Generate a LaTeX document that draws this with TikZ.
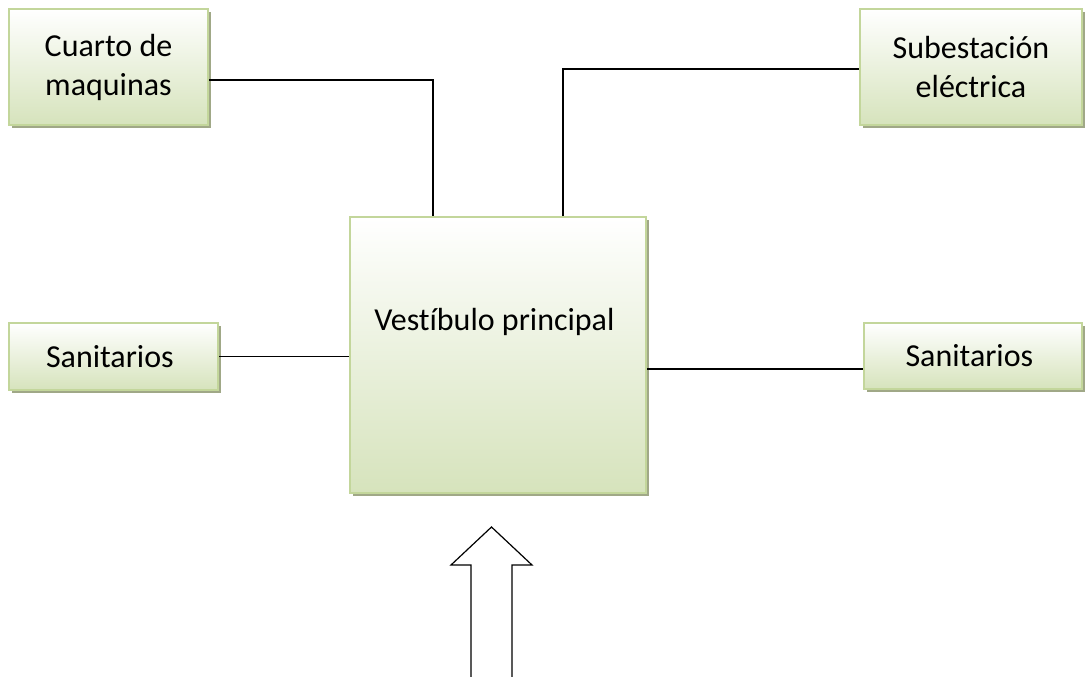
\documentclass[tikz,border=0pt]{standalone}
\usepackage{fontspec}
\setmainfont{Carlito}[Ligatures=NoCommon]
\usetikzlibrary{positioning,shadows}
\definecolor{boxline}{RGB}{195,214,155}
\definecolor{boxfill}{RGB}{214,227,188}
\definecolor{boxshade}{RGB}{160,168,135}

\begin{document}
\begin{tikzpicture}[x = 1pt, y = -1pt, line width = 1.5pt,
    room/.style = { draw = boxline, line width = 2pt, align = center, inner sep = 0pt,
                    top color = white, bottom color = boxfill,
                    general shadow = { shadow xshift = 3pt, shadow yshift = -3pt, fill = boxshade },
                    font = \fontsize{32}{39}\selectfont }]
    \useasboundingbox (0,0) rectangle (1088,677);

    \node [room, minimum width = 199pt, minimum height = 116pt] (cuarto) at (108.5,67) { Cuarto de\\maquinas };
    \node [room, minimum width = 222pt, minimum height = 116pt] (subest) at (971,67) { Subestación\\eléctrica };
    \node [room, minimum width = 209pt, minimum height = 67pt] (sanizq) at (113.5,356.5) { Sanitarios };
    \node [room, minimum width = 218pt, minimum height = 66pt] (sander) at (973,356) { Sanitarios };
    \node [room, minimum width = 296pt, minimum height = 276pt,
           text height = 22pt, text depth = 72pt] (vest) at (498,355) { Vestíbulo principal };

    \draw ([yshift=-13pt]cuarto.east) -| ([xshift=-65pt]vest.north);
    \draw ([xshift=65pt]vest.north) |- ([yshift=-2pt]subest.west);
    \draw (sanizq.east) -- (sanizq.east -| vest.west);
    \draw ([yshift=-14pt]vest.east) -- ([yshift=-13pt]sander.west);

    % entrada
    \coordinate (entrada) at (491.5,677);
    \draw [line width = 1.2pt, line join = miter]
      (entrada) ++(-20.5,0) -- ++(0,-112) -- ++(-20,0) -- (491.5,527) -- (532,565) -- ++(-20,0) -- ++(0,112);
\end{tikzpicture}
\end{document}
